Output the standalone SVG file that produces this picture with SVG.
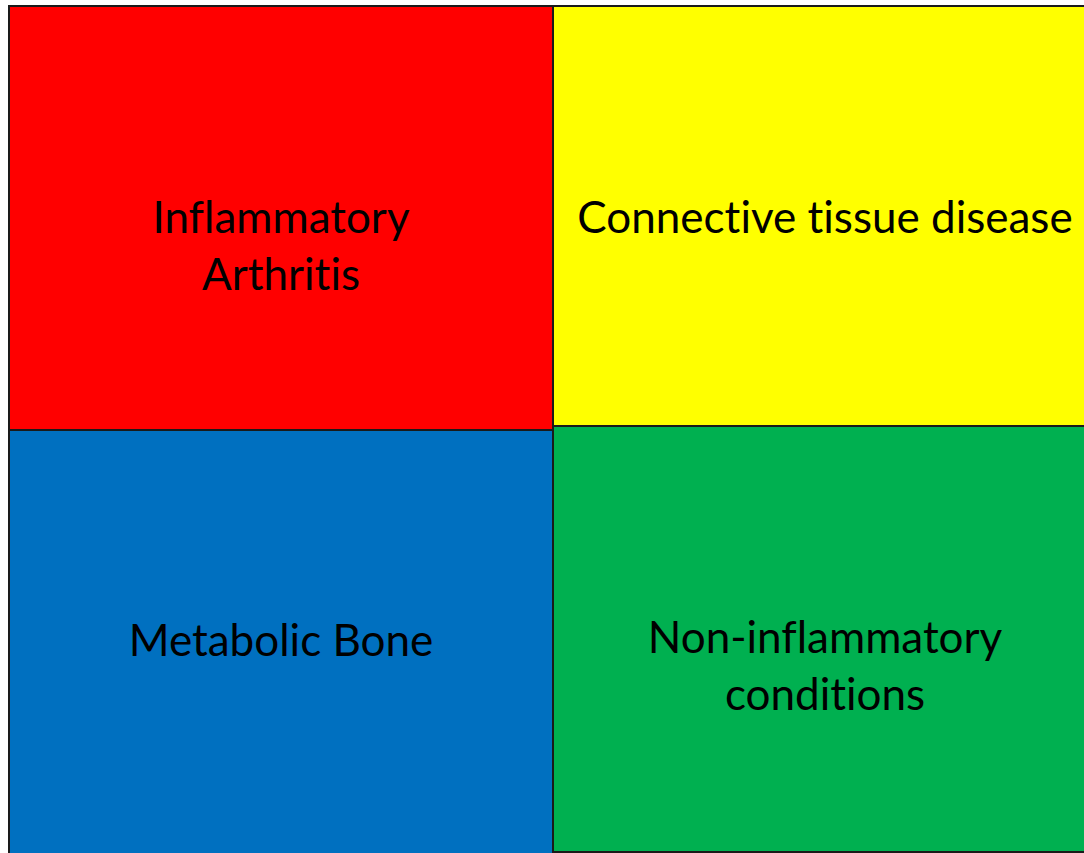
<svg xmlns="http://www.w3.org/2000/svg" width="1084" height="853" viewBox="0 0 1084 853">
<style>
.box{stroke:#1a1a1a;stroke-width:2}
.lbl{font-family:Lato,"Open Sans","Liberation Sans",sans-serif;font-size:44px;fill:#000;text-anchor:middle;font-variant-ligatures:none;font-feature-settings:"liga" 0}
</style>
<rect width="1084" height="853" fill="#fff"/>
<g id="connectors"/>
<g id="inflammatory-arthritis">
<rect class="box" x="9" y="6" width="544" height="424" fill="#ff0000"/>
<text class="lbl" x="281" y="233">Inflammatory</text>
<text class="lbl" x="281" y="290">Arthritis</text>
</g>
<g id="connective-tissue-disease">
<rect class="box" x="553" y="6" width="544" height="420" fill="#ffff00"/>
<text class="lbl" x="825" y="233">Connective tissue disease</text>
</g>
<g id="metabolic-bone">
<rect class="box" x="9" y="430" width="544" height="430" fill="#0070c0"/>
<text class="lbl" x="281" y="656">Metabolic Bone</text>
</g>
<g id="non-inflammatory-conditions">
<rect class="box" x="553" y="426" width="544" height="426" fill="#00b050"/>
<text class="lbl" x="825" y="653">Non-inflammatory</text>
<text class="lbl" x="825" y="710">conditions</text>
</g>
</svg>
